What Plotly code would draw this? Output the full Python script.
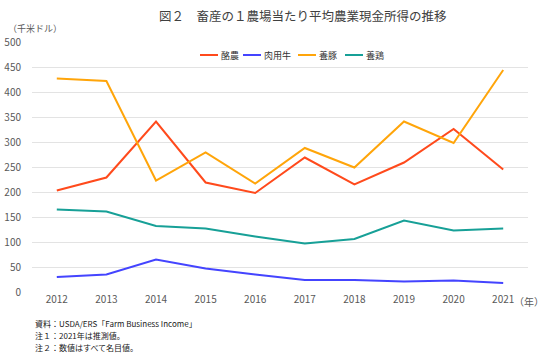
import plotly.graph_objects as go

years = [2012, 2013, 2014, 2015, 2016, 2017, 2018, 2019, 2020, 2021]
tick_labels = [str(y) for y in years]
dairy = [203, 229, 341, 219, 198, 269, 215, 259, 326, 245]
beef = [30, 35, 65, 47, 35, 24, 24, 21, 23, 18]
hogs = [427, 422, 223, 279, 217, 288, 249, 341, 298, 444]
poultry = [165, 161, 132, 127, 111, 97, 106, 143, 123, 127]

series = [
    ("酪農", dairy, "#FF4A1C"),
    ("肉用牛", beef, "#4444FF"),
    ("養豚", hogs, "#FFA50A"),
    ("養鶏", poultry, "#17A097"),
]
legend_x = [200, 243, 298, 345]  # pixel starts of legend line samples

FONT = "Noto Sans CJK JP"
fig = go.Figure()
for name, vals, col in series:
    fig.add_trace(go.Scatter(x=years, y=vals, name=name, mode="lines",
                             line=dict(color=col, width=2), showlegend=False))

W, H = 550, 354
ml, mr, mt, mb = 32, 22, 42, 62
pw = W - ml - mr
ph = H - mt - mb
fig.update_layout(
    width=W, height=H,
    margin=dict(l=ml, r=mr, t=mt, b=mb, pad=0),
    paper_bgcolor="white", plot_bgcolor="white",
    font=dict(family=FONT, color="#595959", size=10),
    showlegend=False,
    xaxis=dict(range=[2011.5, 2021.5], tickmode="array", tickvals=years,
               ticktext=tick_labels, showgrid=False, zeroline=False, automargin=False,
               showline=False, ticks="", tickfont=dict(size=10, color="#595959", family=FONT)),
    yaxis=dict(range=[0, 500], dtick=50, showgrid=True, gridcolor="#E3E3E3",
               gridwidth=1, zeroline=False, showline=False, ticks="", automargin=False,
               tickfont=dict(size=10, color="#595959", family=FONT), ticklabelstandoff=10),
)

def ann_px(text, x, y, size, color="#404040", xanchor="left", yanchor="middle"):
    fig.add_annotation(text=text, x=(x - ml) / pw, y=(H - mb - y) / ph,
                       xref="paper", yref="paper", showarrow=False,
                       xanchor=xanchor, yanchor=yanchor,
                       font=dict(size=size, color=color, family=FONT))

# legend (custom, compact like the reference)
for (name, vals, col), lx in zip(series, legend_x):
    fig.add_shape(type="line", xref="paper", yref="paper",
                  x0=(lx - ml) / pw, x1=(lx + 18 - ml) / pw,
                  y0=(H - mb - 55) / ph, y1=(H - mb - 55) / ph,
                  line=dict(color=col, width=2))
    ann_px(name, lx + 19, 55, 9, "#333333")

ann_px("図２　畜産の１農場当たり平均農業現金所得の推移", 303, 16, 12.5, "#404040", "center")
ann_px("（千米ドル）", 6, 29, 9, "#595959", "left")
ann_px("（年）", 512, 301, 10, "#595959", "left")
ann_px("資料：USDA/ERS「Farm Business Income」", 33, 323, 8, "#202020")
ann_px("注１：2021年は推測値。", 33, 335, 8, "#202020")
ann_px("注２：数値はすべて名目値。", 33, 347, 8, "#202020")

fig.write_html("out.html")
